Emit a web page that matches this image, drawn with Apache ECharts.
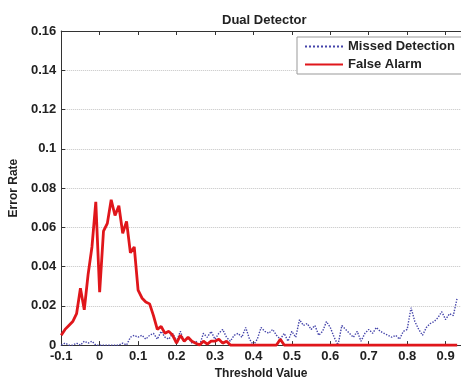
<!DOCTYPE html>
<html>
<head>
<meta charset="utf-8">
<script src="https://cdn.jsdelivr.net/npm/echarts@6/dist/echarts.min.js"></script>
<style>
  html, body { margin: 0; padding: 0; background: #fff; }
  #chart { width: 461px; height: 385px; }
</style>
</head>
<body>
<div id="chart"></div>
<script>
// error rates, one value per 0.01 of threshold starting at -0.1
var missedDetection = [
  0, 0.001, 0, 0, 0.001, 0, 0.002, 0.001, 0.002, 0,
  0, 0, 0, 0, 0, 0, 0.001, 0, 0.004, 0.005,
  0.004, 0.005, 0.003, 0.005, 0.006, 0.003, 0.007, 0.004, 0.003, 0.006,
  0.002, 0.007, 0.002, 0.004, 0.001, 0.002, 0, 0.006, 0.004, 0.007,
  0.003, 0.006, 0.008, 0.004, 0.002, 0.005, 0.006, 0.004, 0.009, 0.003,
  0, 0.003, 0.009, 0.007, 0.006, 0.008, 0.005, 0.003, 0.006, 0.002,
  0.007, 0.004, 0.013, 0.010, 0.011, 0.008, 0.010, 0.005, 0.007, 0.012,
  0.009, 0.004, 0, 0.010, 0.008, 0.006, 0.004, 0.007, 0.002, 0.006,
  0.008, 0.006, 0.009, 0.007, 0.006, 0.005, 0.004, 0.005, 0.003, 0.007,
  0.008, 0.019, 0.012, 0.008, 0.005, 0.009, 0.011, 0.012, 0.014, 0.017,
  0.013, 0.016, 0.015, 0.024
];
var falseAlarm = [
  0.005, 0.008, 0.010, 0.012, 0.016, 0.029, 0.018, 0.036, 0.050, 0.073,
  0.027, 0.058, 0.062, 0.074, 0.066, 0.071, 0.057, 0.063, 0.047, 0.050,
  0.028, 0.024, 0.022, 0.021, 0.015, 0.008, 0.0095, 0.006, 0.007, 0.005,
  0.001, 0.005, 0.002, 0.004, 0.002, 0.001, 0, 0.002, 0.0005, 0.002,
  0.002, 0.003, 0.001, 0.002, 0, 0, 0, 0, 0, 0,
  0, 0, 0, 0, 0, 0, 0, 0.003, 0, 0,
  0, 0, 0, 0, 0, 0, 0, 0, 0, 0,
  0, 0, 0, 0, 0, 0, 0, 0, 0, 0,
  0, 0, 0, 0, 0, 0, 0, 0, 0, 0,
  0, 0, 0, 0, 0, 0, 0, 0, 0, 0,
  0, 0, 0, 0
];
// threshold grid (x positions of the samples)
var thresholds = missedDetection.map(function (_, i) {
  return Math.round((-0.1 + i * 0.01) * 100) / 100;
});

var font = "'Liberation Sans', Arial, sans-serif";
var chart = echarts.init(document.getElementById("chart"), null, { renderer: "canvas" });

var option = {
  backgroundColor: "#fff",
  animation: false,
  title: {
    text: "Dual Detector",
    left: 217,
    top: 9,
    textStyle: { fontFamily: font, fontSize: 13, fontWeight: "bold", color: "#222" }
  },
  legend: {
    orient: "vertical",
    left: 297,
    top: 37,
    itemWidth: 38,
    itemHeight: 10,
    itemGap: 5,
    padding: [3, 8, 3, 7],
    backgroundColor: "#fff",
    borderColor: "#999",
    borderWidth: 1,
    borderRadius: 0,
    itemStyle: { opacity: 0 },
    textStyle: { fontFamily: font, fontSize: 13, fontWeight: "bold", color: "#222" },
    data: ["Missed Detection", "False Alarm"]
  },
  grid: { left: 60, top: 31, right: -6, bottom: 33.5 },
  xAxis: [
    {
      type: "value",
      min: -0.1,
      max: 0.94,
      interval: 0.1,
      name: "Threshold Value",
      nameLocation: "middle",
      nameGap: 20,
      nameTextStyle: { fontFamily: font, fontSize: 12, fontWeight: "bold", color: "#222" },
      axisLine: { onZero: false, lineStyle: { color: "#333", width: 1 } },
      axisTick: { inside: true, length: 4, lineStyle: { color: "#333" } },
      axisLabel: {
        fontFamily: font, fontSize: 13, fontWeight: "bold", color: "#222",
        margin: 5, showMaxLabel: false
      },
      splitLine: { show: false }
    },
    {
      type: "value",
      position: "top",
      min: -0.1,
      max: 0.94,
      interval: 0.1,
      axisLine: { onZero: false, lineStyle: { color: "#333", width: 1 } },
      axisTick: { inside: true, length: 4, lineStyle: { color: "#333" } },
      axisLabel: { show: false },
      splitLine: { show: false }
    }
  ],
  yAxis: {
    type: "value",
    min: 0,
    max: 0.16,
    interval: 0.02,
    name: "Error Rate",
    nameLocation: "middle",
    nameGap: 40,
    nameTextStyle: { fontFamily: font, fontSize: 12, fontWeight: "bold", color: "#222" },
    axisLine: { show: true, onZero: false, lineStyle: { color: "#333", width: 1 } },
    axisTick: { show: true, inside: true, length: 4, lineStyle: { color: "#333" } },
    axisLabel: { fontFamily: font, fontSize: 13, fontWeight: "bold", color: "#222", margin: 5 },
    splitLine: { show: true, lineStyle: { color: "#c4c4c4", type: "dotted", width: 1 } }
  },
  series: [
    {
      name: "Missed Detection",
      type: "line",
      symbol: "none",
      clip: false,
      data: thresholds.map(function (t, i) { return [t, missedDetection[i]]; }),
      lineStyle: { color: "#4444aa", width: 1.4, type: "dotted" },
      itemStyle: { color: "#4444aa" }
    },
    {
      name: "False Alarm",
      type: "line",
      symbol: "none",
      clip: false,
      data: thresholds.map(function (t, i) { return [t, falseAlarm[i]]; }),
      lineStyle: { color: "#e0161b", width: 2.8 },
      itemStyle: { color: "#e0161b" }
    }
  ]
};
chart.setOption(option);
</script>
</body>
</html>
